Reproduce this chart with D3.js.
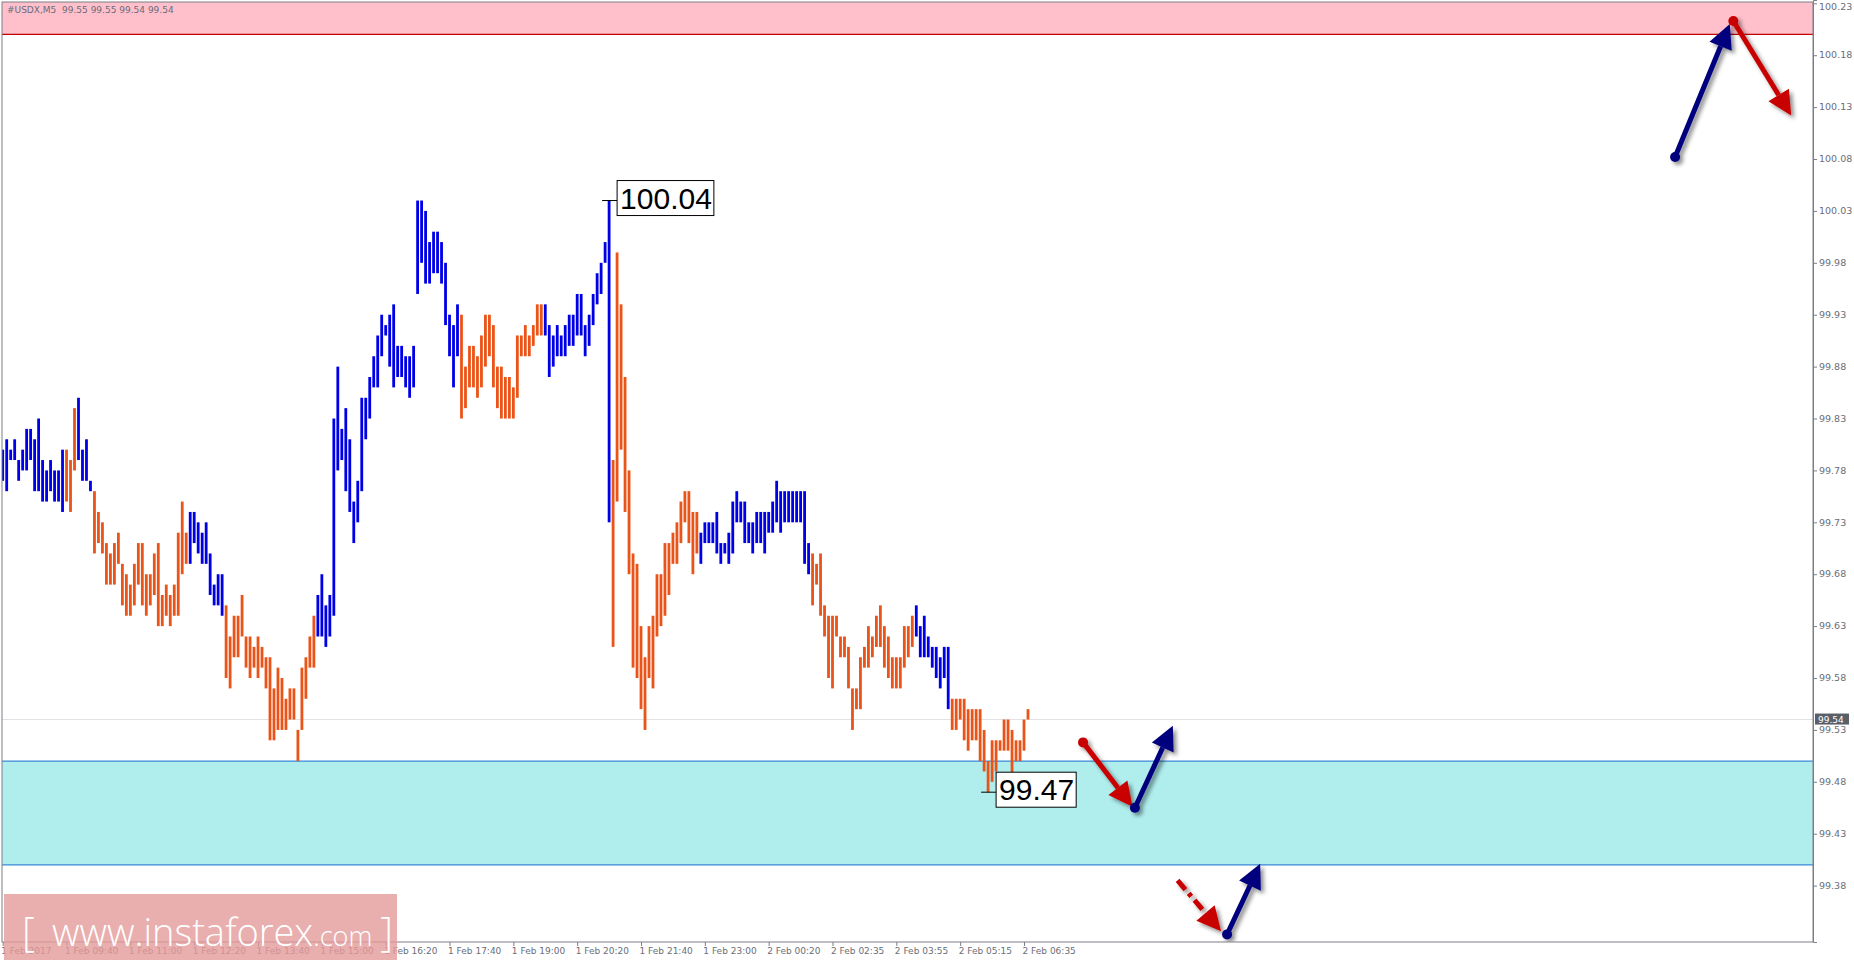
<!DOCTYPE html>
<html><head><meta charset="utf-8">
<script src="https://cdn.jsdelivr.net/npm/d3@7/dist/d3.min.js"></script>
<style>html,body{margin:0;padding:0;background:#fff;overflow:hidden}</style>
</head><body>
<svg id="c" width="1854" height="962"></svg>
<script>
const highs = [99.80,99.81,99.80,99.81,99.79,99.80,99.82,99.82,99.81,99.83,99.79,99.78,99.79,99.78,99.78,99.80,99.80,99.79,99.84,99.85,99.80,99.81,99.77,
99.76,99.74,99.73,99.71,99.70,99.71,99.72,99.69,99.68,99.67,99.69,99.71,99.71,99.68,99.68,99.70,99.71,99.66,99.67,99.66,99.67,99.72,99.75,99.72,
99.74,99.74,99.73,99.72,99.73,99.70,99.67,99.68,99.68,
99.65,99.62,99.64,99.64,99.66,99.62,99.62,99.61,99.62,99.61,99.60,99.60,99.57,99.59,99.58,99.56,99.57,99.57,99.53,99.59,99.60,99.62,99.64,
99.66,99.68,99.65,99.66,99.83,99.88,99.82,99.84,99.81,99.75,99.77,99.85,99.85,99.87,99.89,99.91,99.93,99.92,99.93,99.94,99.90,99.90,99.89,99.89,99.90,
100.04,100.04,100.03,100.00,100.01,100.01,100.00,99.98,99.93,99.92,99.94,
99.93,99.88,99.90,99.90,99.89,99.91,99.93,99.93,99.92,99.88,99.88,99.87,99.87,99.86,99.91,99.91,99.92,99.91,99.92,99.94,99.94,
99.94,99.92,99.91,99.92,99.91,99.92,99.93,99.93,99.95,99.95,99.92,99.93,99.95,99.97,99.98,100.00,100.04,
99.79,99.99,99.94,99.87,99.78,99.70,99.69,
99.63,99.60,99.63,99.64,99.68,99.68,99.71,99.71,99.72,99.73,99.75,99.76,99.76,99.74,99.74,
99.72,99.73,99.73,99.73,99.74,99.71,99.71,99.72,99.75,99.76,99.75,99.75,99.73,99.73,99.74,99.74,99.74,99.74,99.75,99.77,99.76,99.76,99.76,99.76,99.76,99.76,99.76,99.71,
99.70,99.69,99.70,99.65,99.64,99.64,99.64,99.62,99.62,99.61,99.57,99.57,99.60,99.61,99.63,99.62,99.64,99.65,99.63,99.62,99.60,99.60,99.60,99.63,99.63,99.64,
99.65,99.63,99.64,99.62,99.61,99.61,99.60,99.61,99.61,
99.56,99.56,99.56,99.56,99.55,99.55,99.55,99.55,99.53,99.50,99.52,99.52,99.52,99.54,99.54,99.53,99.52,99.52,99.54,99.55];
const lows = [99.77,99.76,99.79,99.79,99.77,99.78,99.78,99.79,99.76,99.76,99.75,99.75,99.76,99.75,99.75,99.74,99.75,99.74,99.78,99.79,99.77,99.77,99.76,
99.70,99.71,99.70,99.67,99.67,99.67,99.69,99.65,99.64,99.64,99.65,99.67,99.65,99.64,99.65,99.66,99.63,99.63,99.64,99.63,99.64,99.64,99.68,99.69,
99.69,99.71,99.70,99.69,99.69,99.66,99.65,99.65,99.64,
99.58,99.57,99.60,99.60,99.62,99.59,99.58,99.59,99.58,99.59,99.57,99.52,99.52,99.53,99.53,99.53,99.54,99.54,99.50,99.53,99.56,99.59,99.59,
99.62,99.62,99.61,99.62,99.64,99.78,99.79,99.76,99.74,99.71,99.73,99.76,99.81,99.83,99.86,99.86,99.89,99.91,99.88,99.86,99.87,99.87,99.86,99.85,99.86,
99.95,99.98,99.96,99.96,99.97,99.97,99.96,99.92,99.89,99.86,99.89,
99.83,99.84,99.86,99.86,99.85,99.86,99.88,99.89,99.86,99.84,99.83,99.83,99.83,99.83,99.85,99.89,99.89,99.89,99.90,99.91,99.91,
99.91,99.87,99.88,99.89,99.89,99.89,99.90,99.90,99.91,99.91,99.89,99.90,99.92,99.94,99.95,99.98,99.73,
99.61,99.75,99.80,99.74,99.68,99.59,99.58,
99.55,99.53,99.58,99.57,99.62,99.63,99.64,99.66,99.69,99.69,99.71,99.73,99.71,99.68,99.70,
99.69,99.71,99.71,99.71,99.70,99.69,99.70,99.69,99.70,99.73,99.73,99.71,99.71,99.70,99.71,99.71,99.70,99.72,99.72,99.73,99.72,99.73,99.73,99.73,99.73,99.73,99.69,99.68,
99.65,99.67,99.64,99.62,99.58,99.57,99.62,99.60,99.60,99.57,99.53,99.55,99.55,99.59,99.59,99.60,99.61,99.61,99.59,99.58,99.57,99.57,99.57,99.59,99.60,99.61,
99.62,99.60,99.60,99.60,99.59,99.58,99.57,99.58,99.55,
99.53,99.53,99.54,99.52,99.51,99.52,99.52,99.50,99.49,99.47,99.48,99.49,99.51,99.51,99.51,99.48,99.50,99.50,99.51,99.54];
// runs of bar direction: [count, 'B' up / 'O' down]
const dirRuns = [[16,'B'],[3,'O'],[4,'B'],[24,'O'],[9,'B'],[23,'O'],[36,'B'],[21,'O'],[17,'B'],[22,'O'],[28,'B'],[26,'O'],[9,'B'],[20,'O']];
const yTicks = [100.23,100.18,100.13,100.08,100.03,99.98,99.93,99.88,99.83,99.78,99.73,99.68,99.63,99.58,99.53,99.48,99.43,99.38];
const xTickLabels = ["1 Feb 2017","1 Feb 09:40","1 Feb 11:00","1 Feb 12:20","1 Feb 13:40","1 Feb 15:00","1 Feb 16:20","1 Feb 17:40","1 Feb 19:00","1 Feb 20:20","1 Feb 21:40","1 Feb 23:00","2 Feb 00:20","2 Feb 02:35","2 Feb 03:55","2 Feb 05:15","2 Feb 06:35"];
const resistanceZone = [100.20, 100.30];
const supportZone = [99.40, 99.50];
const currentPrice = 99.54;
const extremes = [{i:152, p:100.04, t:"100.04"}, {i:247, p:99.47, t:"99.47"}];
const arrows = [
 {s:[419.2,100.082], e:[432.9,100.21], c:"#00007e", dash:false},
 {s:[433.8,100.213], e:[448.3,100.122], c:"#c80000", dash:false},
 {s:[270.8,99.518], e:[283.2,99.456], c:"#c80000", dash:false},
 {s:[283.8,99.455], e:[293.3,99.534], c:"#00007e", dash:false},
 {s:[294.5,99.385], e:[305.4,99.336], c:"#c80000", dash:true},
 {s:[306.9,99.333], e:[315.2,99.401], c:"#00007e", dash:false}
];

const dirs = dirRuns.flatMap(([n,d]) => Array(n).fill(d));
const svg = d3.select("#c");
const plotR = 1813, plotB = 942;
const x = d3.scaleLinear().domain([0,257]).range([2.7, 1028]);
const y = d3.scaleLinear().domain([100.2332 - plotB/1038, 100.2332]).range([plotB, 0]);

const defs = svg.append("defs");
const f = defs.append("filter").attr("id","sh").attr("x","-50%").attr("y","-50%").attr("width","200%").attr("height","200%");
f.append("feDropShadow").attr("dx",3).attr("dy",3).attr("stdDeviation",2).attr("flood-color","#000").attr("flood-opacity",0.45);
const clip = defs.append("clipPath").attr("id","pc");
clip.append("rect").attr("x",2).attr("y",2).attr("width",plotR-2).attr("height",plotB-2);
const g = svg.append("g").attr("clip-path","url(#pc)");

g.append("rect").attr("x",2).attr("width",plotR-2).attr("y",y(resistanceZone[1])).attr("height",y(resistanceZone[0])-y(resistanceZone[1])).attr("fill","#ffc0cb");
g.append("line").attr("x1",2).attr("x2",plotR).attr("y1",y(resistanceZone[0])).attr("y2",y(resistanceZone[0])).attr("stroke","#c00000").attr("stroke-width",1.2);
g.append("rect").attr("x",2).attr("width",plotR-2).attr("y",y(supportZone[1])).attr("height",y(supportZone[0])-y(supportZone[1])).attr("fill","#b0eeee");
supportZone.forEach(v=>g.append("line").attr("x1",2).attr("x2",plotR).attr("y1",y(v)).attr("y2",y(v)).attr("stroke","#3a88d8").attr("stroke-width",1.2));
g.append("line").attr("x1",2).attr("x2",plotR).attr("y1",y(currentPrice)).attr("y2",y(currentPrice)).attr("stroke","#e2e2e6").attr("stroke-width",1);

g.selectAll("rect.bar").data(highs).enter().append("rect").attr("class","bar")
 .attr("x",(d,i)=>x(i)-1.4).attr("width",2.8)
 .attr("y",d=>y(d)).attr("height",(d,i)=>Math.max(y(lows[i])-y(d),3))
 .attr("fill",(d,i)=>dirs[i]==='B'?"#0000e6":"#eb5418");

extremes.forEach(e=>{
  const bx = x(e.i)+8, by = y(e.p);
  const lg = g.append("g");
  lg.append("line").attr("x1",x(e.i)-7).attr("x2",bx).attr("y1",by).attr("y2",by).attr("stroke","#000");
  const t = lg.append("text").attr("x",bx+3).attr("y",by+8).attr("font-family","Liberation Sans, Arial").attr("font-size",30).text(e.t);
  const bb = t.node().getBBox();
  lg.insert("rect","text").attr("x",bb.x-3).attr("y",by-20).attr("width",bb.width+5).attr("height",35).attr("fill","#fff").attr("stroke","#000").attr("stroke-width",1);
});

arrows.forEach(a=>{
  const x1=x(a.s[0]), y1=y(a.s[1]), x2=x(a.e[0]), y2=y(a.e[1]);
  const ang=Math.atan2(y2-y1,x2-x1), L=24, Wd=12;
  const bxp=x2-L*Math.cos(ang), byp=y2-L*Math.sin(ang);
  const ag=g.append("g").attr("filter","url(#sh)");
  ag.append("line").attr("x1",x1).attr("y1",y1).attr("x2",bxp).attr("y2",byp).attr("stroke",a.c).attr("stroke-width",5)
    .attr("stroke-dasharray",a.dash?"12,5,4,5":null);
  const px=-Math.sin(ang), py=Math.cos(ang);
  ag.append("path").attr("d",`M${x2},${y2}L${bxp+px*Wd},${byp+py*Wd}L${bxp-px*Wd},${byp-py*Wd}Z`).attr("fill",a.c);
  if(!a.dash) ag.append("circle").attr("cx",x1).attr("cy",y1).attr("r",5).attr("fill",a.c);
});

svg.append("text").attr("x",7).attr("y",13).attr("font-family","DejaVu Sans, Verdana").attr("font-size",9).attr("fill","#6a6a7a").attr("xml:space","preserve").text("#USDX,M5  99.55 99.55 99.54 99.54");
svg.append("rect").attr("x",2).attr("y",2).attr("width",plotR-2).attr("height",plotB-2).attr("fill","none").attr("stroke","#7a7f86").attr("stroke-width",1);

const ya = svg.append("g").attr("transform",`translate(${plotR},0)`).call(d3.axisRight(y).tickValues(yTicks).tickSize(4).tickFormat(d3.format(".2f")));
ya.select(".domain").attr("stroke","#7a7f86");
ya.selectAll("line").attr("stroke","#7a7f86");
ya.selectAll("text").attr("font-family","DejaVu Sans, Verdana").attr("font-size",9.5).attr("fill","#6a6e78").attr("dx",-1).attr("dy","0.6em").attr("y",(d,i)=>i===0?0:-3);

svg.append("rect").attr("x",plotR+2).attr("y",y(currentPrice)-6).attr("width",34).attr("height",11).attr("fill","#5a5e66");
svg.append("text").attr("x",plotR+5).attr("y",y(currentPrice)+3).attr("font-family","DejaVu Sans, Verdana").attr("font-size",9).attr("fill","#fff").text(currentPrice.toFixed(2));

const xa = svg.append("g").attr("transform",`translate(0,${plotB})`).call(d3.axisBottom(x).tickValues(xTickLabels.map((d,i)=>i*16)).tickSize(4).tickFormat((d,i)=>xTickLabels[i]));
xa.select(".domain").remove();
xa.selectAll("line").attr("stroke","#7a7f86");
xa.selectAll("text").attr("text-anchor","start").attr("dx",-2).attr("y",6).attr("font-family","DejaVu Sans, Verdana").attr("font-size",9).attr("fill","#6a6e78");

svg.append("rect").attr("x",4).attr("y",894).attr("width",393).attr("height",66).attr("fill","#e49a9a").attr("opacity",0.8);
const wt = svg.append("text").attr("y",946).attr("font-family","Open Sans, Noto Sans").attr("fill","#fff").attr("font-weight",300);
wt.append("tspan").attr("x",22).attr("font-size",40).text("[");
wt.append("tspan").attr("x",52).attr("font-size",38).text("www.instaforex");
wt.append("tspan").attr("font-size",27).text(".com");
wt.append("tspan").attr("dx",8).attr("font-size",40).text("]");
</script>
</body></html>
